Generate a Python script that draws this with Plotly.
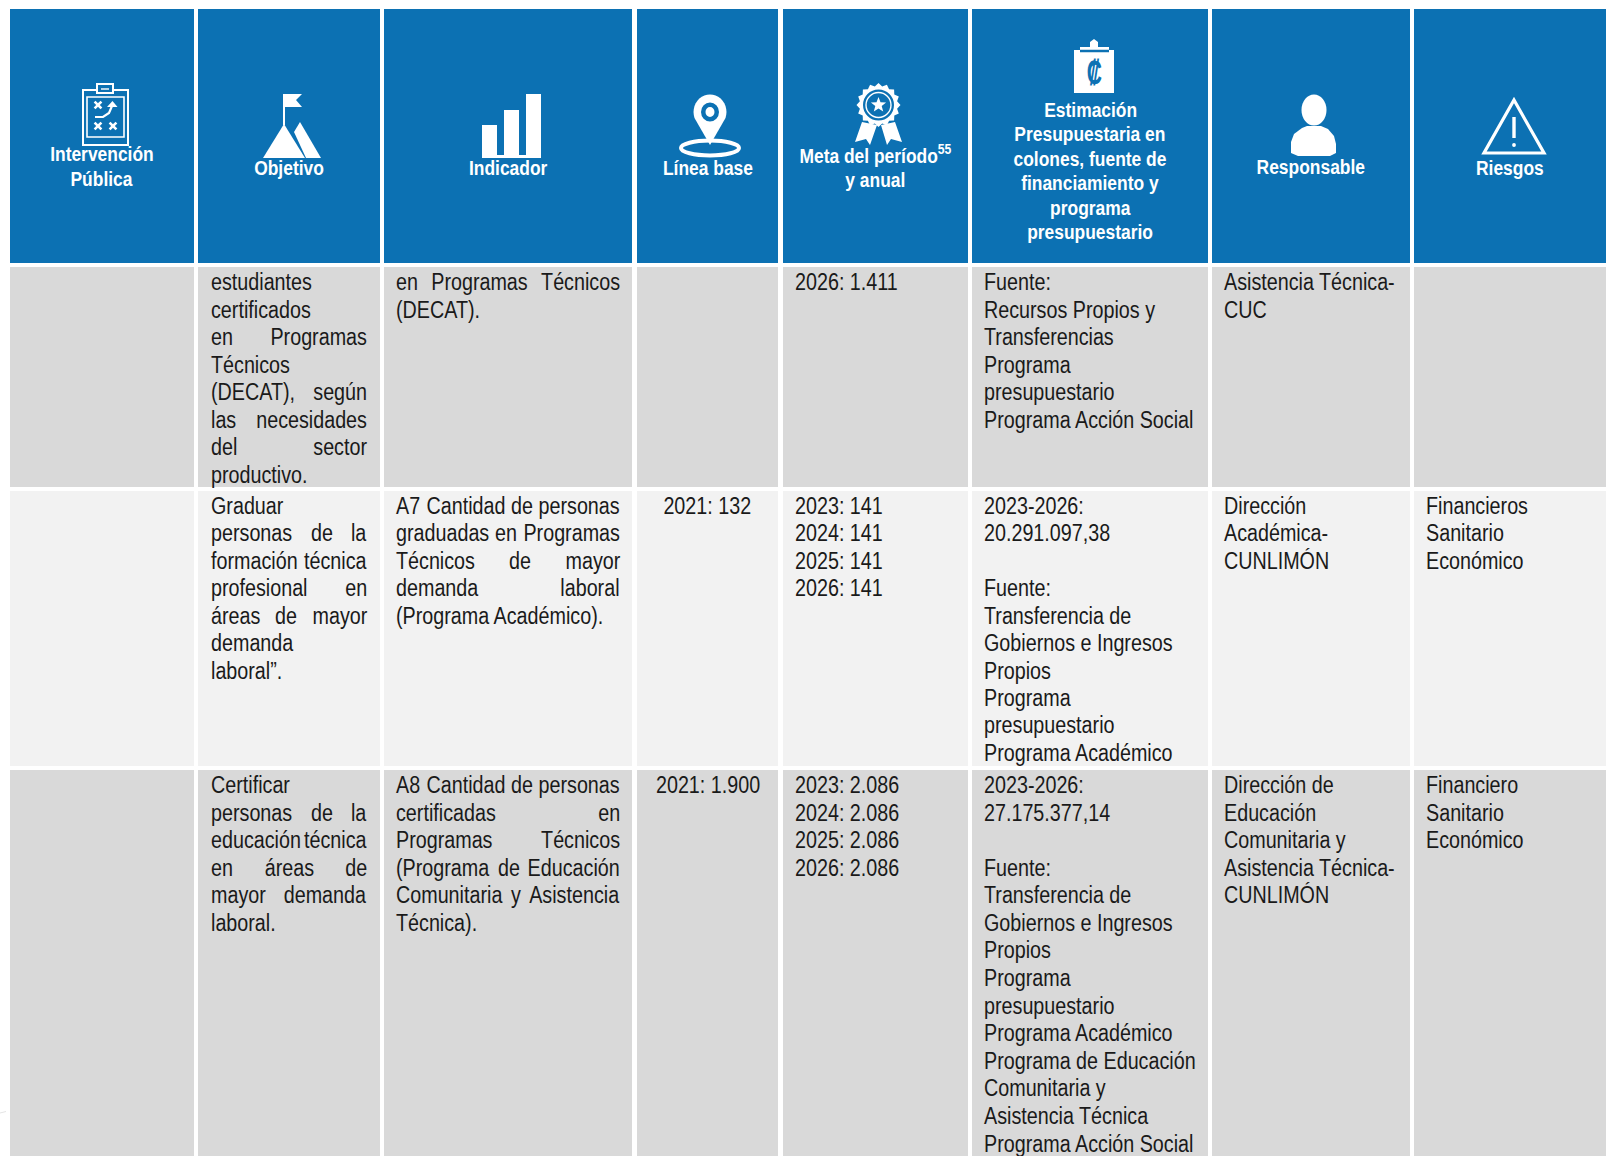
import math
import plotly.graph_objects as go

HEADERS = [
    ["Intervención", "Pública"],
    ["Objetivo"],
    ["Indicador"],
    ["Línea base"],
    ["Meta del período<sup>55</sup>", "y anual"],
    ["Estimación", "Presupuestaria en", "colones, fuente de", "financiamiento y", "programa", "presupuestario"],
    ["Responsable"],
    ["Riesgos"],
]
ROW1 = [
    [],
    ["estudiantes", "certificados", "en Programas", "Técnicos", "(DECAT), según", "las necesidades", "del sector", "productivo."],
    ["en Programas Técnicos", "(DECAT)."],
    [],
    ["2026: 1.411"],
    ["Fuente:", "Recursos Propios y", "Transferencias", "Programa", "presupuestario", "Programa Acción Social"],
    ["Asistencia Técnica-", "CUC"],
    [],
]
ROW2 = [
    [],
    ["Graduar", "personas de la", "formación técnica", "profesional en", "áreas de mayor", "demanda", "laboral”."],
    ["A7 Cantidad de personas", "graduadas en Programas", "Técnicos de mayor", "demanda laboral", "(Programa Académico)."],
    ["2021: 132"],
    ["2023: 141", "2024: 141", "2025: 141", "2026: 141"],
    ["2023-2026:", "20.291.097,38", "", "Fuente:", "Transferencia de", "Gobiernos e Ingresos", "Propios", "Programa", "presupuestario", "Programa Académico"],
    ["Dirección", "Académica-", "CUNLIMÓN"],
    ["Financieros", "Sanitario", "Económico"],
]
ROW3 = [
    [],
    ["Certificar", "personas de la", "educación técnica", "en áreas de", "mayor demanda", "laboral."],
    ["A8 Cantidad de personas", "certificadas en", "Programas Técnicos", "(Programa de Educación", "Comunitaria y Asistencia", "Técnica)."],
    ["2021: 1.900"],
    ["2023: 2.086", "2024: 2.086", "2025: 2.086", "2026: 2.086"],
    ["2023-2026:", "27.175.377,14", "", "Fuente:", "Transferencia de", "Gobiernos e Ingresos", "Propios", "Programa", "presupuestario", "Programa Académico", "Programa de Educación", "Comunitaria y", "Asistencia Técnica", "Programa Acción Social"],
    ["Dirección de", "Educación", "Comunitaria y", "Asistencia Técnica-", "CUNLIMÓN"],
    ["Financiero", "Sanitario", "Económico"],
]
JUSTIFIED = {
    "en Programas", "(DECAT), según", "las necesidades", "del sector", "en Programas Técnicos",
    "personas de la", "formación técnica", "profesional en", "áreas de mayor",
    "A7 Cantidad de personas", "graduadas en Programas", "Técnicos de mayor", "demanda laboral",
    "educación técnica", "en áreas de", "mayor demanda",
    "A8 Cantidad de personas", "certificadas en", "Programas Técnicos",
    "(Programa de Educación", "Comunitaria y Asistencia",
}

COL_X = [(10, 194), (198, 380), (384, 632), (637, 778), (783, 968), (972, 1208), (1212, 1410), (1414, 1606)]
ROW_Y = [(9, 263), (267, 487), (491, 766), (770, 1156)]
ROW_FILL = ["#0c71b3", "#d9d9d9", "#f2f2f2", "#d9d9d9"]
TEXT_FIRST_Y = [None, 282, 506, 785]
ROW_PITCH = [None, 27.5, 27.43, 27.58]
PADS = [12, 12.8, 12.4, 12, 11.8, 11.5, 11.5, 11.7]
HEAD_FIRST_Y = [153.5, 167, 167, 167, 153.5, 109.5, 166, 167]
HEAD_PITCH = [25, 24, 24, 24, 25.5, 24.4, 24, 24]
FONT = "Liberation Sans, Arial, sans-serif"
BODY = 23.5
HEAD = 20.5
SQUEEZE_BODY = 0.84
SQUEEZE_HEAD = 0.85
BLUE = ROW_FILL[0]
INK = "#1a1a1a"

W = {"i": .222, "l": .222, "j": .222, "t": .278, "f": .278, "r": .333, "s": .5, "c": .5, "k": .5, "v": .5, "y": .5, "z": .5, "x": .5,
     "m": .833, "w": .722, "(": .333, ")": .333, ",": .278, ".": .278, ":": .278, "T": .611, "A": .667, "C": .722, "D": .722, "E": .667,
     "P": .667, "F": .611, "é": .556, "ó": .556, "I": .278, "J": .5}


def width(word):
    return sum(W.get(ch, .556) for ch in word) * SQUEEZE_BODY * BODY


shapes = []
annotations = []


def text(x, y, s, anchor="left", size=BODY, color=INK, bold=False):
    annotations.append(dict(x=x, y=y, xref="x", yref="y", text=f"<b>{s}</b>" if bold else s, showarrow=False,
                            xanchor=anchor, align=anchor, yanchor="middle", font=dict(family=FONT, size=size, color=color),
                            borderpad=0, borderwidth=0))


def rect(x0, y0, x1, y1, fill):
    shapes.append(dict(type="rect", xref="x", yref="y", x0=x0, y0=y0, x1=x1, y1=y1, fillcolor=fill, line_width=0, layer="below"))


def path(points, fill="#ffffff", close=True, stroke=None, sw=0):
    d = "M" + " L".join(f"{x:.1f},{y:.1f}" for x, y in points) + (" Z" if close else "")
    shapes.append(dict(type="path", xref="x", yref="y", path=d, fillcolor=fill if close else "rgba(0,0,0,0)",
                       line=dict(color=stroke or fill, width=sw)))


def ellipse(cx, cy, rx, ry, fill="#ffffff", stroke=None, sw=0):
    shapes.append(dict(type="circle", xref="x", yref="y", x0=cx - rx, y0=cy - ry, x1=cx + rx, y1=cy + ry,
                       fillcolor=fill, line=dict(color=stroke or fill, width=sw)))


def cross(cx, cy, r=3.4):
    path([(cx - r, cy - r), (cx + r, cy + r)], close=False, stroke="#ffffff", sw=2.6)
    path([(cx - r, cy + r), (cx + r, cy - r)], close=False, stroke="#ffffff", sw=2.6)


def icons():
    # clipboard with play
    path([(83, 90), (128, 90), (128, 145), (83, 145)], fill=BLUE, stroke="#ffffff", sw=2)
    path([(87, 97), (124, 97), (124, 137), (87, 137)], fill=BLUE, stroke="#ffffff", sw=1.6)
    path([(97, 93), (97, 84), (113, 84), (113, 93)], fill=BLUE, stroke="#ffffff", sw=2)
    path([(101, 89), (109, 89)], close=False, stroke="#ffffff", sw=1.4)
    cross(98, 105)
    cross(98, 126)
    cross(113, 126)
    path([(95, 117), (103, 117), (109, 113), (112, 106)], close=False, stroke="#ffffff", sw=2.2)
    path([(107, 107), (112.5, 101), (117.5, 107)])
    # mountain and flag
    path([(283, 94), (285, 94), (285, 125), (283, 125)])
    path([(283, 94), (302, 94), (296, 100), (302, 107), (283, 107)])
    path([(263, 158), (284, 124), (305, 158)])
    path([(294, 132), (300, 122), (321, 158), (306, 158)])
    # bars
    rect(482, 125, 497, 158, "#ffffff")
    rect(504, 110, 519, 158, "#ffffff")
    rect(526, 94, 541, 158, "#ffffff")
    rect(497, 155, 526, 158, "#ffffff")
    # location pin
    ellipse(710, 148, 29, 7.5, fill="rgba(0,0,0,0)", stroke="#ffffff", sw=4)
    pts = [(710 + 16.5 * math.cos(math.radians(a)), 112 + 17.5 * math.sin(math.radians(a))) for a in range(160, 390, 10)]
    path(pts + [(710, 145)])
    ellipse(710, 112, 9, 9.5, fill=BLUE)
    ellipse(710, 112, 4.5, 5)
    # medal
    path([(862, 122), (855, 142), (866, 139), (870, 145), (877, 125)])
    path([(881, 125), (887, 145), (891, 139), (902, 142), (895, 122)])
    star = []
    for k in range(32):
        r = 22 if k % 2 == 0 else 19
        a = k / 32 * 2 * math.pi
        star.append((878.5 + r * math.cos(a), 105 + r * math.sin(a)))
    path(star)
    ellipse(878.5, 105, 15.5, 15.5, fill=BLUE)
    ellipse(878.5, 105, 12.5, 12.5, fill="rgba(0,0,0,0)", stroke="#ffffff", sw=1.4)
    s5 = []
    for k in range(10):
        r = 8 if k % 2 == 0 else 3.4
        a = -math.pi / 2 + k * math.pi / 5
        s5.append((878.5 + r * math.cos(a), 105 + r * math.sin(a)))
    path(s5)
    # budget clipboard
    path([(1074, 50), (1114, 50), (1114, 93), (1074, 93)])
    path([(1080, 52), (1080, 47), (1090, 47), (1090, 42), (1094, 39), (1098, 42), (1098, 47), (1109, 47), (1109, 52)])
    path([(1080, 51), (1109, 51)], close=False, stroke=BLUE, sw=2.5)
    text(1094, 72, "<b>₡</b>", anchor="center", size=34, color=BLUE)
    # person
    ellipse(1314, 110, 12.5, 15.5)
    path([(1291, 153), (1291, 142), (1294, 134), (1302, 128), (1307, 126), (1321, 126), (1328, 129), (1334, 136), (1336, 144),
          (1336, 153), (1330, 156), (1298, 156)])
    # warning
    path([(1514, 100), (1544, 153), (1484, 153)], fill="rgba(0,0,0,0)", stroke="#ffffff", sw=3.2)
    path([(1514, 117), (1514, 138)], close=False, stroke="#ffffff", sw=3.4)
    ellipse(1514, 145, 1.9, 1.9)


for (y0, y1), fill in zip(ROW_Y, ROW_FILL):
    for x0, x1 in COL_X:
        rect(x0, y0, x1, y1, fill)
path([(0, 1113), (6, 1111.5)], close=False, stroke="#e4e4e4", sw=1)
icons()

for c, lines in enumerate(HEADERS):
    cx = sum(COL_X[c]) / 2
    for i, line in enumerate(lines):
        text(cx, HEAD_FIRST_Y[c] + i * HEAD_PITCH[c], line, anchor="center", size=HEAD, color="#ffffff", bold=True)

for r, row in enumerate([ROW1, ROW2, ROW3], start=1):
    for c, lines in enumerate(row):
        x0, x1 = COL_X[c][0] + PADS[c], COL_X[c][1] - PADS[c]
        for i, line in enumerate(lines):
            y = TEXT_FIRST_Y[r] + i * ROW_PITCH[r]
            if not line:
                continue
            if c == 3:
                text((x0 + x1) / 2, y, line, anchor="center")
            elif line in JUSTIFIED:
                words = line.split(" ")
                gap = ((x1 - x0) - sum(width(w) for w in words)) / (len(words) - 1)
                pos = x0
                for j, w in enumerate(words):
                    if j == 0:
                        text(x0, y, w)
                    elif j == len(words) - 1:
                        text(x1, y, w, anchor="right")
                    else:
                        text(pos + width(w) / 2, y, w, anchor="center")
                    pos += width(w) + gap
            else:
                text(x0, y, line)

SQUEEZE_JS = """
document.body.style.margin='0';document.body.style.overflow='hidden';
document.querySelectorAll('g.annotation text.annotation-text').forEach(function(t){
  var bold = t.querySelector('[style*="bold"]') || /<b>/.test(t.getAttribute('data-unformatted')||'');
  var k = %s;
  if (t.textContent === '₡') { k = 0.62; }
  var x = parseFloat(t.getAttribute('x')) || 0;
  t.setAttribute('transform', 'translate(' + (x*(1-k)) + ',0) scale(' + k + ',1)');
});
""" % f"bold ? {SQUEEZE_HEAD} : {SQUEEZE_BODY}"

fig = go.Figure()
fig.update_layout(
    width=1606, height=1156, margin=dict(l=0, r=0, t=0, b=0), showlegend=False,
    paper_bgcolor="#ffffff", plot_bgcolor="#ffffff",
    xaxis=dict(range=[0, 1606], visible=False, fixedrange=True),
    yaxis=dict(range=[1156, 0], visible=False, fixedrange=True),
    shapes=shapes, annotations=annotations,
)
fig.write_html("out.html", config={"displayModeBar": False}, post_script=SQUEEZE_JS)
